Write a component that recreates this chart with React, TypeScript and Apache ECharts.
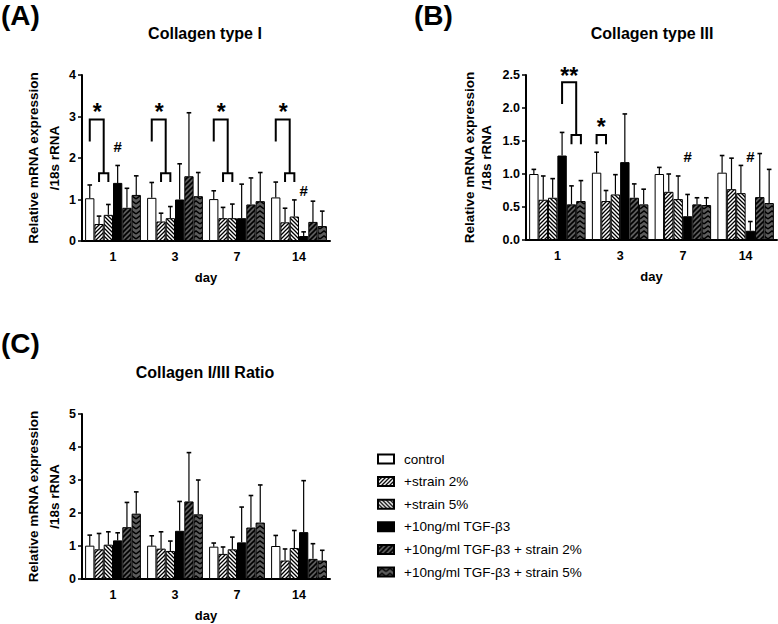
import React, { useEffect, useRef } from "react";
import * as echarts from "echarts";

const days = ["1", "3", "7", "14"];
const groupNames = [
  "control",
  "+strain 2%",
  "+strain 5%",
  "+10ng/ml TGF-β3",
  "+10ng/ml TGF-β3 + strain 2%",
  "+10ng/ml TGF-β3 + strain 5%",
];

// Collagen type I (mean, upper end of error bar), one row per group, one column per day
const col1Mean = [
  [1.03, 1.04, 1.01, 1.05],
  [0.41, 0.47, 0.55, 0.45],
  [0.63, 0.55, 0.55, 0.59],
  [1.4, 1.0, 0.55, 0.12],
  [0.8, 1.56, 0.88, 0.46],
  [1.11, 1.08, 0.96, 0.36],
];
const col1Upper = [
  [1.35, 1.41, 1.21, 1.42],
  [0.6, 0.67, 0.81, 0.79],
  [0.88, 0.83, 0.89, 0.99],
  [1.82, 1.86, 1.37, 0.22],
  [1.27, 3.09, 1.52, 0.96],
  [1.57, 1.65, 1.65, 0.72],
];

// Collagen type III
const col3Mean = [
  [1.0, 1.02, 1.0, 1.02],
  [0.61, 0.59, 0.73, 0.77],
  [0.64, 0.69, 0.62, 0.71],
  [1.28, 1.18, 0.36, 0.14],
  [0.54, 0.64, 0.54, 0.65],
  [0.59, 0.54, 0.53, 0.56],
];
const col3Upper = [
  [1.07, 1.33, 1.1, 1.28],
  [0.97, 0.75, 1.0, 1.24],
  [0.93, 0.99, 0.97, 1.13],
  [1.63, 1.91, 0.69, 0.28],
  [0.82, 0.85, 0.64, 1.31],
  [0.9, 0.77, 0.64, 1.07],
];

// Collagen I/III ratio
const ratioMean = [
  [1.01, 1.01, 0.98, 1.0],
  [0.9, 0.92, 0.76, 0.56],
  [1.04, 0.85, 0.9, 0.94],
  [1.17, 1.46, 1.11, 1.42],
  [1.57, 2.35, 1.56, 0.61],
  [1.98, 1.96, 1.71, 0.56],
];
const ratioUpper = [
  [1.33, 1.31, 1.09, 1.32],
  [1.38, 1.43, 0.97, 0.91],
  [1.43, 1.15, 1.27, 1.47],
  [1.4, 2.35, 2.18, 2.98],
  [2.32, 3.83, 2.53, 1.07],
  [2.64, 3.0, 2.85, 0.87],
];

// significance brackets: [day index, from bar pos, to bar pos, left foot y, top y, right foot y]
const bracketsA = [
  [0, 0, 1.5, 2.4, 2.93, 1.63], [0, 1, 2, 1.42, 1.63, 1.42],
  [1, 0, 1.5, 2.4, 2.93, 1.63], [1, 1, 2, 1.42, 1.63, 1.42],
  [2, 0, 1.5, 2.4, 2.93, 1.63], [2, 1, 2, 1.42, 1.63, 1.42],
  [3, 0, 1.5, 2.4, 2.93, 1.63], [3, 1, 2, 1.42, 1.63, 1.42],
];
const bracketsB = [
  [0, 3, 4.5, 2.06, 2.39, 1.59], [0, 4, 5, 1.45, 1.59, 1.45],
  [1, 0, 1, 1.45, 1.59, 1.45],
];
const bracketsC: number[][] = [];

// significance marks: [day index, bar pos, y]
const marksA = [[0, 0.8, 3.2], [1, 0.8, 3.2], [2, 0.8, 3.2], [3, 0.8, 3.2], [0, 3, 2.27], [3, 3, 1.21]];
const marksAText = ["*", "*", "*", "*", "#", "#"];
const marksB = [[0, 3.75, 2.55], [1, 0.5, 1.77], [2, 3, 1.26], [3, 3, 1.26]];
const marksBText = ["**", "*", "#", "#"];
const marksC: number[][] = [];
const marksCText: string[] = [];

const FONT = "'Liberation Sans', Arial, Helvetica, sans-serif";
const GAP = 0.1;
const NBARS = 6;

function makePattern(kind: string): any {
  const c = document.createElement("canvas");
  const ctx = c.getContext("2d")!;
  const gray = "#5c5c5c";
  if (kind === "fwd" || kind === "back" || kind === "dfwd") {
    const s = kind === "dfwd" ? 5 : 4;
    c.width = s;
    c.height = s;
    ctx.fillStyle = kind === "dfwd" ? gray : "#fff";
    ctx.fillRect(0, 0, s, s);
    ctx.strokeStyle = "#000";
    ctx.lineWidth = kind === "dfwd" ? 1.6 : 1.3;
    const segs =
      kind === "back"
        ? [[0, 0, s, s], [-1, s - 1, 1, s + 1], [s - 1, -1, s + 1, 1]]
        : [[0, s, s, 0], [-1, 1, 1, -1], [s - 1, s + 1, s + 1, s - 1]];
    ctx.beginPath();
    segs.forEach(([a, b, d, e]) => {
      ctx.moveTo(a, b);
      ctx.lineTo(d, e);
    });
    ctx.stroke();
  } else if (kind === "chev") {
    c.width = 8;
    c.height = 5;
    ctx.fillStyle = gray;
    ctx.fillRect(0, 0, 8, 5);
    ctx.strokeStyle = "#000";
    ctx.lineWidth = 1.5;
    ctx.beginPath();
    for (const off of [-5, 0, 5]) {
      ctx.moveTo(0, 4 + off);
      ctx.lineTo(4, 1 + off);
      ctx.lineTo(8, 4 + off);
    }
    ctx.stroke();
  }
  return { image: c, repeat: "repeat" };
}

export default function App() {
  const ref = useRef<HTMLDivElement>(null);
  useEffect(() => {
    if (!ref.current) return;
    const chart = echarts.init(ref.current, undefined, { renderer: "svg" });

    const fills: any[] = [
      "#ffffff",
      makePattern("fwd"),
      makePattern("back"),
      "#000000",
      makePattern("dfwd"),
      makePattern("chev"),
    ];

    const panels = [
      { mean: col1Mean, upper: col1Upper, brackets: bracketsA, marks: marksA, texts: marksAText },
      { mean: col3Mean, upper: col3Upper, brackets: bracketsB, marks: marksB, texts: marksBText },
      { mean: ratioMean, upper: ratioUpper, brackets: bracketsC, marks: marksC, texts: marksCText },
    ];

    const barX = (api: any, d: number, pos: number) => {
      const c = api.coord([d, 0])[0];
      const bw = (api.size([1, 0])[0] * (1 - GAP)) / NBARS;
      return c + (pos - (NBARS - 1) / 2) * bw;
    };

    const series: any[] = [];
    panels.forEach((p, g) => {
      for (let i = 0; i < NBARS; i++) {
        series.push({
          type: "bar",
          name: groupNames[i],
          xAxisIndex: g,
          yAxisIndex: g,
          data: p.mean[i],
          barGap: "0%",
          barCategoryGap: GAP * 100 + "%",
          itemStyle: { color: fills[i], borderColor: "#000", borderWidth: 1 },
          emphasis: { disabled: true },
          z: 2,
        });
      }
      for (let i = 0; i < NBARS; i++) {
        series.push({
          type: "custom",
          name: "err" + g + "_" + i,
          xAxisIndex: g,
          yAxisIndex: g,
          z: 3,
          encode: { x: 0, y: 1 },
          data: days.map((_, d) => [d, p.mean[i][d], p.upper[i][d]]),
          renderItem: (params: any, api: any) => {
            const d = api.value(0);
            const base = api.coord([d, api.value(1)]);
            const top = api.coord([d, api.value(2)]);
            const x = barX(api, d, i);
            return {
              type: "group",
              children: [
                { type: "line", shape: { x1: x, y1: base[1], x2: x, y2: top[1] }, style: { stroke: "#000", lineWidth: 1.2 } },
                { type: "line", shape: { x1: x - 2.3, y1: top[1], x2: x + 2.3, y2: top[1] }, style: { stroke: "#000", lineWidth: 1.6 } },
              ],
            };
          },
        });
      }
      series.push({
        type: "custom",
        name: "brackets" + g,
        xAxisIndex: g,
        yAxisIndex: g,
        z: 4,
        encode: { x: 0, y: 4 },
        data: p.brackets,
        renderItem: (params: any, api: any) => {
          const d = api.value(0);
          const x1 = barX(api, d, api.value(1));
          const x2 = barX(api, d, api.value(2));
          const yL = api.coord([d, api.value(3)])[1];
          const yT = api.coord([d, api.value(4)])[1];
          const yR = api.coord([d, api.value(5)])[1];
          return {
            type: "polyline",
            shape: { points: [[x1, yL], [x1, yT], [x2, yT], [x2, yR]] },
            style: { stroke: "#000", lineWidth: 2, fill: null },
          };
        },
      });
      series.push({
        type: "custom",
        name: "marks" + g,
        xAxisIndex: g,
        yAxisIndex: g,
        z: 4,
        encode: { x: 0, y: 2 },
        data: p.marks,
        renderItem: (params: any, api: any) => {
          const d = api.value(0);
          const x = barX(api, d, api.value(1));
          const y = api.coord([d, api.value(2)])[1];
          const t = p.texts[params.dataIndex];
          const star = t.indexOf("*") >= 0;
          return {
            type: "text",
            x,
            y: star ? y + 4 : y,
            style: {
              text: t,
              fill: "#000",
              fontFamily: FONT,
              fontWeight: "bold",
              fontSize: star ? 23 : 15,
              align: "center",
              verticalAlign: "middle",
            },
          };
        },
      });
    });

    const axisLine = { lineStyle: { color: "#000", width: 2 } };
    const tick = { lineStyle: { color: "#000", width: 1.5 }, length: 4 };
    const makeX = (g: number) => ({
      type: "category",
      gridIndex: g,
      data: days,
      axisLine,
      axisTick: { ...tick, alignWithLabel: true },
      axisLabel: { color: "#000", fontFamily: FONT, fontWeight: "bold", fontSize: 12.5, margin: 9 },
      name: "day",
      nameLocation: "middle",
      nameGap: 30,
      nameTextStyle: { color: "#000", fontFamily: FONT, fontWeight: "bold", fontSize: 13 },
    });
    const makeY = (g: number, max: number, interval: number, decimals: number, gap: number, lh: number) => ({
      type: "value",
      gridIndex: g,
      min: 0,
      max,
      interval,
      splitLine: { show: false },
      axisLine: { show: true, ...axisLine },
      axisTick: { show: true, ...tick },
      axisLabel: {
        color: "#000",
        fontFamily: FONT,
        fontWeight: "bold",
        fontSize: 12.5,
        margin: 6,
        formatter: (v: number) => v.toFixed(decimals),
      },
      name: "Relative mRNA expression\n/18s rRNA",
      nameLocation: "middle",
      nameGap: gap,
      nameTextStyle: { color: "#000", fontFamily: FONT, fontWeight: "bold", fontSize: 13.5, lineHeight: lh },
    });

    const text = (t: string, x: number, y: number, size: number, align: string) => ({
      type: "text",
      x,
      y,
      style: { text: t, fill: "#000", fontFamily: FONT, fontWeight: "bold", fontSize: size, align, verticalAlign: "middle" },
    });

    chart.setOption({
      animation: false,
      backgroundColor: "#fff",
      grid: [
        { left: 82, top: 75, width: 248, height: 166 },
        { left: 526, top: 75, width: 251, height: 165 },
        { left: 82, top: 414, width: 248, height: 165 },
      ],
      xAxis: [makeX(0), makeX(1), makeX(2)],
      yAxis: [
        makeY(0, 4, 1, 0, 15, 21),
        makeY(1, 2.5, 0.5, 1, 31, 17),
        makeY(2, 5, 1, 0, 15, 21),
      ],
      legend: {
        data: groupNames,
        orient: "vertical",
        left: 372,
        top: 447,
        icon: "rect",
        itemWidth: 16,
        itemHeight: 9,
        itemGap: 8.6,
        selectedMode: false,
        textStyle: { color: "#000", fontFamily: FONT, fontSize: 13.5, lineHeight: 14, padding: [0, 0, 0, 5] },
      },
      graphic: [
        text("(A)", 1, 15, 28, "left"),
        text("(B)", 414, 15, 28, "left"),
        text("(C)", 1, 343, 28, "left"),
        text("Collagen type I", 205, 33, 16, "center"),
        text("Collagen type III", 652, 33, 16, "center"),
        text("Collagen I/III Ratio", 205, 372, 16, "center"),
      ],
      series,
    });
    return () => chart.dispose();
  }, []);
  return <div ref={ref} style={{ position: "absolute", left: 0, top: 0, width: 778, height: 624 }} />;
}
